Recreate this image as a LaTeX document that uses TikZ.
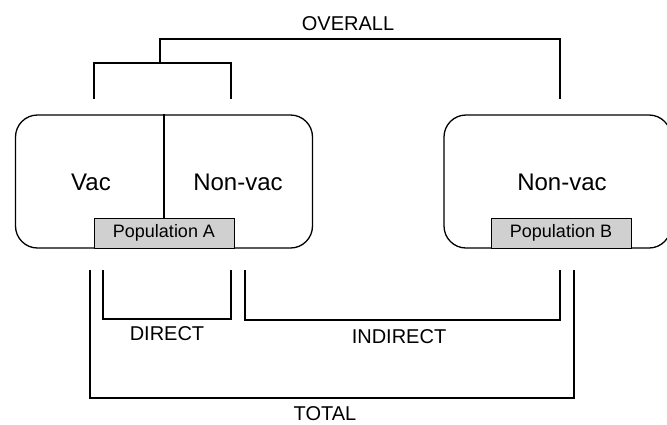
\documentclass[tikz,border=0pt]{standalone}
\usepackage{fontspec}
\setmainfont{Liberation Sans}
\usetikzlibrary{positioning}
\definecolor{popgray}{HTML}{D0D0D0}
\tikzset{
  group/.style={draw, line width=1.3pt, rounded corners=22pt, inner sep=0pt},
  popbox/.style={draw, fill=popgray, line width=0.9pt, minimum width=140pt, minimum height=30pt, inner sep=0pt, font=\fontsize{18}{20}\selectfont},
  armtext/.style={font=\fontsize{24}{27}\selectfont},
  effect/.style={font=\fontsize{20}{23}\selectfont},
  bracket/.style={line width=1.3pt}
}
\begin{document}
\begin{tikzpicture}[x=1pt, y=-1pt]
\useasboundingbox (0,0) rectangle (667,424);
% populations
\node[group, minimum width=297pt, minimum height=133pt] (boxA) at (164,181.5) {};
\node[group, minimum width=227pt, minimum height=133pt] (boxB) at (557.5,181.5) {};
\node[popbox] (popA) at (164,233) {Population A};
\node[popbox] (popB) at (561,233) {Population B};
\draw[line width=1.1pt] (boxA.north) -- (popA.north);
\node[armtext] (vacA) at (91,182) {Vac};
\node[armtext] (nonA) at (238,182) {Non-vac};
\node[armtext] (nonB) at (562,182) {Non-vac};
% bracket ends
\coordinate (vacUp) at (94,99);
\coordinate (nonUp) at (231,99);
\coordinate (bUp) at (560,99);
\coordinate (totL) at (90,270);
\coordinate (dirL) at (103,270);
\coordinate (dirR) at (231,270);
\coordinate (indL) at (245,270);
\coordinate (indR) at (560,270);
\coordinate (totR) at (574,270);
% overall
\draw[bracket] (vacUp) |- (160,63) -| (nonUp);
\draw[bracket] (160,63) |- (360,39) -| (bUp);
\node[effect] (overall) at (348,24) {OVERALL};
% direct, indirect, total
\draw[bracket] (dirL) |- (167,319) -| (dirR);
\node[effect] (direct) at (167,334) {DIRECT};
\draw[bracket] (indL) |- (400,320) -| (indR);
\node[effect] (indirect) at (399,337) {INDIRECT};
\draw[bracket] (totL) |- (330,398) -| (totR);
\node[effect] (total) at (325,414) {TOTAL};
\end{tikzpicture}
\end{document}
